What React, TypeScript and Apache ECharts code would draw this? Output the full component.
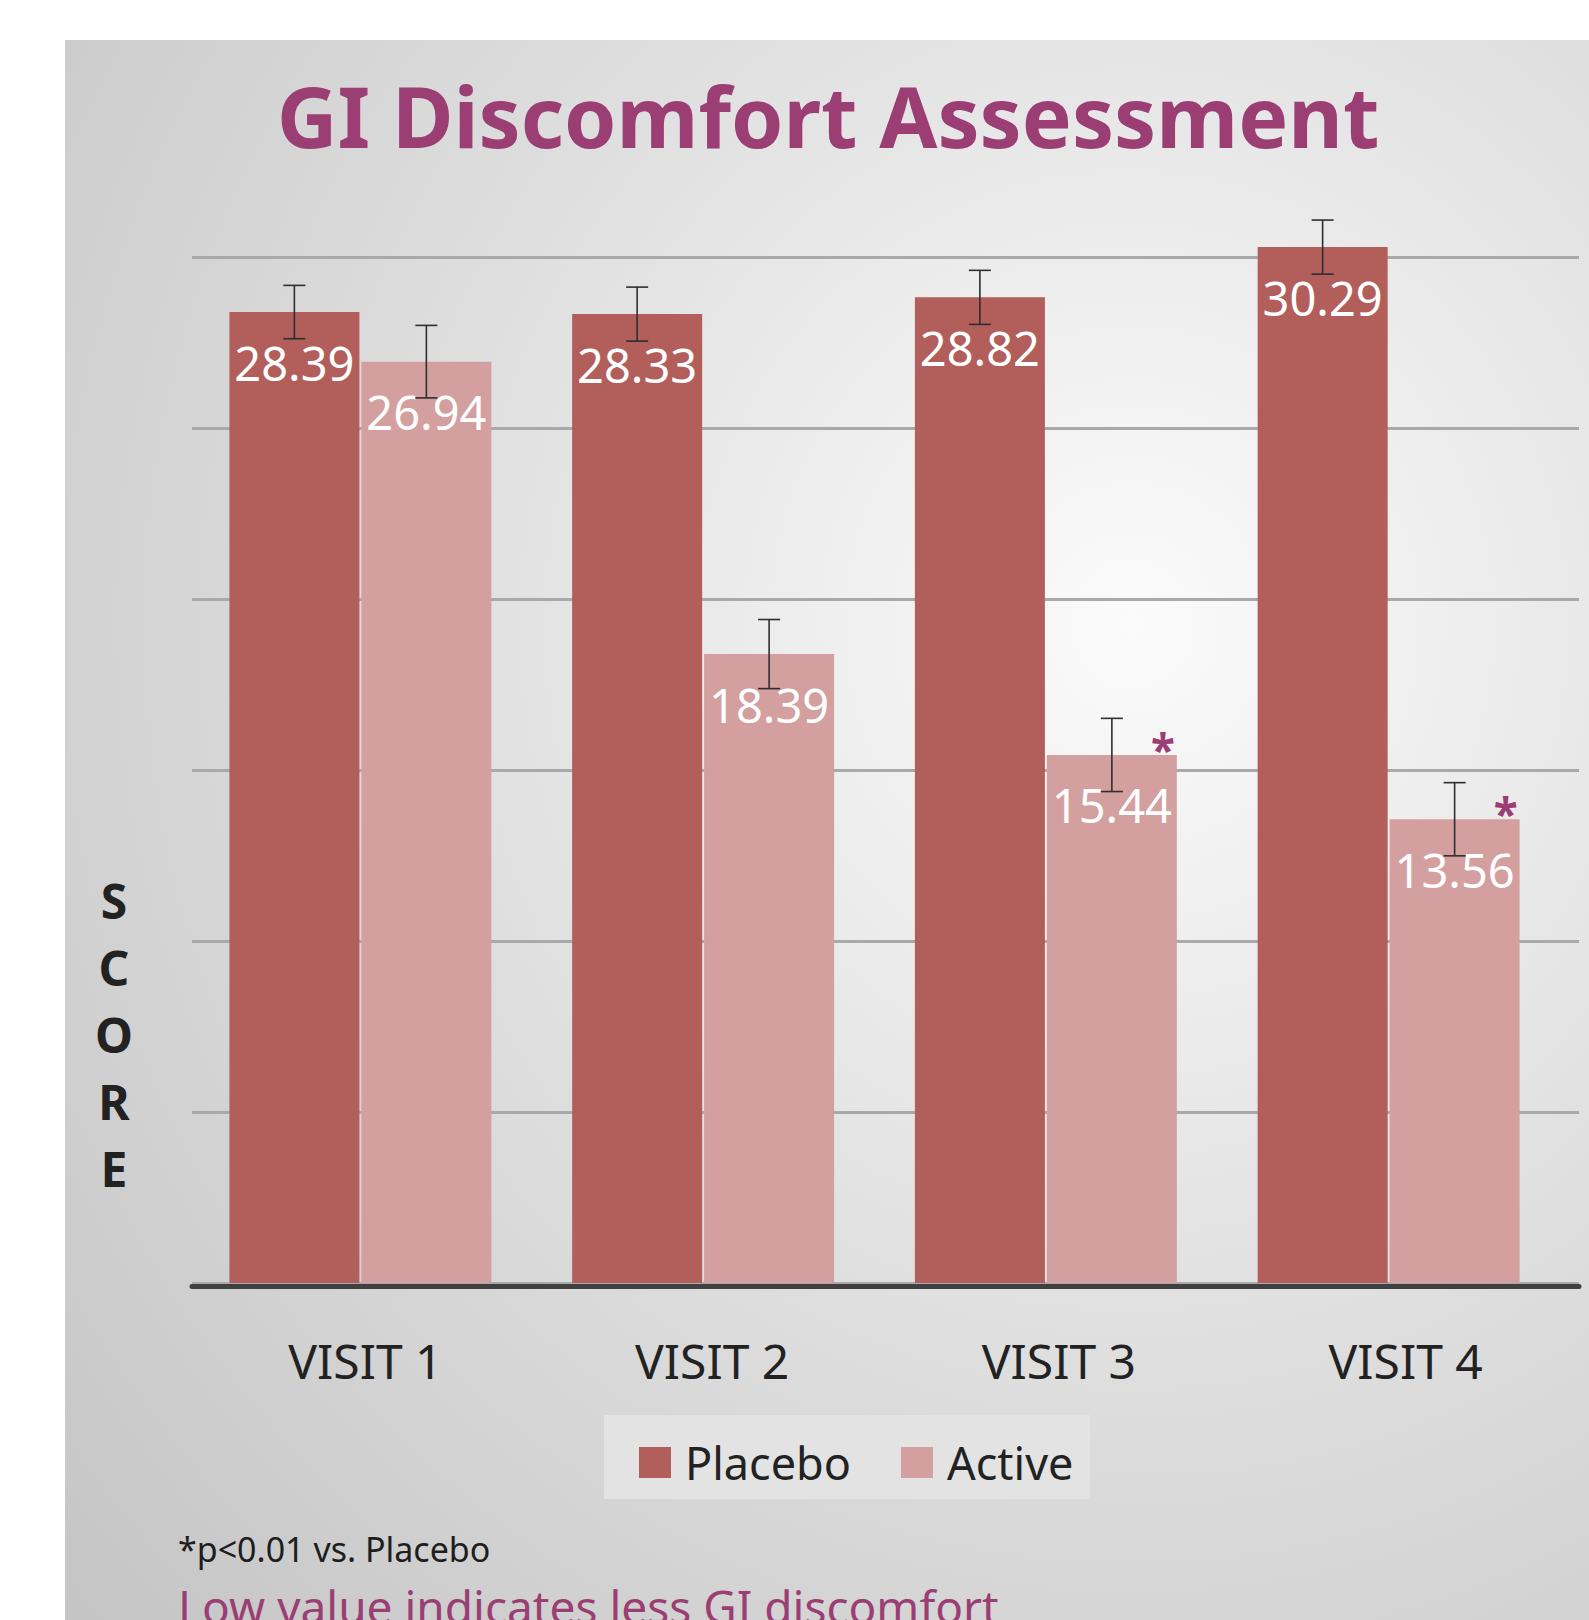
import React, { useEffect, useRef } from "react";
import * as echarts from "echarts";

const categories = ["VISIT 1", "VISIT 2", "VISIT 3", "VISIT 4"];
const seriesNames = ["Placebo", "Active"];
const placebo = [28.39, 28.33, 28.82, 30.29];
const active = [26.94, 18.39, 15.44, 13.56];
const placeboErr = [0.78, 0.79, 0.79, 0.79];
const activeErr = [1.06, 1.01, 1.07, 1.07];
const activeSignificant = [false, false, true, true];
const yMin = 0;
const yMax = 30;
const yInterval = 5;
const titleText = "GI Discomfort Assessment";
const yAxisTitle = "SCORE";
const footnoteText = "*p<0.01 vs. Placebo";
const noteText = "Low value indicates less GI discomfort";

const FONT = '"Noto Sans", "Open Sans", sans-serif';
const PURPLE = "#9a3e74";
const PLACEBO_COLOR = "#b25e5a";
const ACTIVE_COLOR = "#d4a09f";

export default function App() {
  const ref = useRef<HTMLDivElement>(null);

  useEffect(() => {
    if (!ref.current) return;
    const chart = echarts.init(ref.current, undefined, { renderer: "svg" });

    const barLabel = {
      show: true,
      position: "insideTop",
      distance: 27,
      color: "#ffffff",
      fontSize: 47,
      fontFamily: FONT,
      formatter: (p: any) => Number(p.value).toFixed(2),
    };

    const option: any = {
      animation: false,
      backgroundColor: "#ffffff",
      graphic: [
        {
          type: "rect",
          z: -1,
          silent: true,
          shape: { x: 65, y: 40, width: 1524, height: 1580 },
          style: {
            fill: new echarts.graphic.RadialGradient(0.7, 0.37, 0.95, [
              { offset: 0, color: "#fbfbfb" },
              { offset: 0.5, color: "#dedede" },
              { offset: 1, color: "#c4c4c4" },
            ]),
          },
        },
        {
          type: "rect",
          silent: true,
          shape: { x: 604, y: 1415, width: 486, height: 84 },
          style: { fill: "#e3e3e3" },
        },
        {
          type: "text",
          x: 828,
          y: 115,
          style: {
            text: titleText,
            font: `bold 84px ${FONT}`,
            fill: PURPLE,
            align: "center",
            verticalAlign: "middle",
          },
        },
        {
          type: "text",
          x: 114,
          y: 1034,
          style: {
            text: yAxisTitle.split("").join("\n"),
            font: `bold 48px ${FONT}`,
            lineHeight: 67,
            fill: "#222222",
            align: "center",
            verticalAlign: "middle",
          },
        },
        {
          type: "text",
          x: 178,
          y: 1549,
          style: {
            text: footnoteText,
            font: `34px ${FONT}`,
            fill: "#1e1e1e",
            align: "left",
            verticalAlign: "middle",
          },
        },
        {
          type: "text",
          x: 178,
          y: 1606,
          style: {
            text: noteText,
            font: `46px ${FONT}`,
            fill: PURPLE,
            align: "left",
            verticalAlign: "middle",
          },
        },
      ],
      legend: {
        data: seriesNames,
        left: 639,
        top: 1440,
        padding: 0,
        itemWidth: 32,
        itemHeight: 31,
        itemGap: 50,
        icon: "rect",
        selectedMode: false,
        textStyle: {
          fontSize: 45,
          lineHeight: 44,
          color: "#222222",
          fontFamily: FONT,
          padding: [0, 0, 0, 9],
        },
      },
      grid: [
        { left: 192, right: 10, top: 257, bottom: 337 },
        { left: 189, right: 29, top: 257, bottom: 337 },
      ],
      xAxis: [
        {
          type: "category",
          gridIndex: 0,
          data: categories,
          position: "bottom",
          offset: 3,
          axisTick: { show: false },
          axisLine: { onZero: false, lineStyle: { color: "#404040", width: 5 } },
          axisLabel: {
            fontSize: 48,
            lineHeight: 48,
            color: "#222222",
            fontFamily: FONT,
            margin: 50,
          },
        },
        { type: "category", gridIndex: 1, data: categories, show: false },
      ],
      yAxis: [
        {
          type: "value",
          gridIndex: 0,
          min: yMin,
          max: yMax,
          interval: yInterval,
          axisLine: { show: false },
          axisTick: { show: false },
          axisLabel: { show: false },
          splitLine: { lineStyle: { color: "#a9a9ad", width: 3 } },
        },
        {
          type: "value",
          gridIndex: 1,
          min: yMin,
          max: yMax,
          interval: yInterval,
          show: false,
          splitLine: { show: false },
        },
      ],
      series: [
        {
          type: "bar",
          name: seriesNames[0],
          xAxisIndex: 1,
          yAxisIndex: 1,
          data: placebo,
          barWidth: 130,
          barGap: "1.5%",
          clip: false,
          itemStyle: { color: PLACEBO_COLOR },
          label: barLabel,
        },
        {
          type: "bar",
          name: seriesNames[1],
          xAxisIndex: 1,
          yAxisIndex: 1,
          data: active,
          barWidth: 130,
          barGap: "1.5%",
          clip: false,
          itemStyle: { color: ACTIVE_COLOR },
          label: barLabel,
        },
        {
          type: "custom",
          xAxisIndex: 1,
          yAxisIndex: 1,
          z: 10,
          clip: false,
          data: categories.map((_, i) => [
            i,
            placebo[i],
            placeboErr[i],
            active[i],
            activeErr[i],
            activeSignificant[i] ? 1 : 0,
          ]),
          renderItem: (params: any, api: any) => {
            const i = api.value(0);
            const offs = 66;
            const half = 11;
            const children: any[] = [];
            const pairs: [number, number, number][] = [
              [api.value(1), api.value(2), -offs],
              [api.value(3), api.value(4), offs],
            ];
            const lineStyle = { stroke: "#2e2e2e", lineWidth: 1.6 };
            for (const [v, e, dx] of pairs) {
              const top = api.coord([i, v + e]);
              const bot = api.coord([i, v - e]);
              const x = top[0] + dx;
              children.push({
                type: "line",
                shape: { x1: x, y1: top[1], x2: x, y2: bot[1] },
                style: lineStyle,
              });
              children.push({
                type: "line",
                shape: { x1: x - half, y1: top[1], x2: x + half, y2: top[1] },
                style: lineStyle,
              });
              children.push({
                type: "line",
                shape: { x1: x - half, y1: bot[1], x2: x + half, y2: bot[1] },
                style: lineStyle,
              });
            }
            if (api.value(5)) {
              const p = api.coord([i, api.value(3)]);
              children.push({
                type: "text",
                x: p[0] + offs + 51,
                y: p[1] - 6,
                style: {
                  text: "*",
                  fill: PURPLE,
                  font: `bold 44px ${FONT}`,
                  align: "center",
                  verticalAlign: "middle",
                },
              });
            }
            return { type: "group", children };
          },
        },
      ],
    };

    chart.setOption(option);
    return () => {
      chart.dispose();
    };
  }, []);

  return (
    <div
      ref={ref}
      style={{ position: "absolute", left: 0, top: 0, width: 1589, height: 1620 }}
    />
  );
}
